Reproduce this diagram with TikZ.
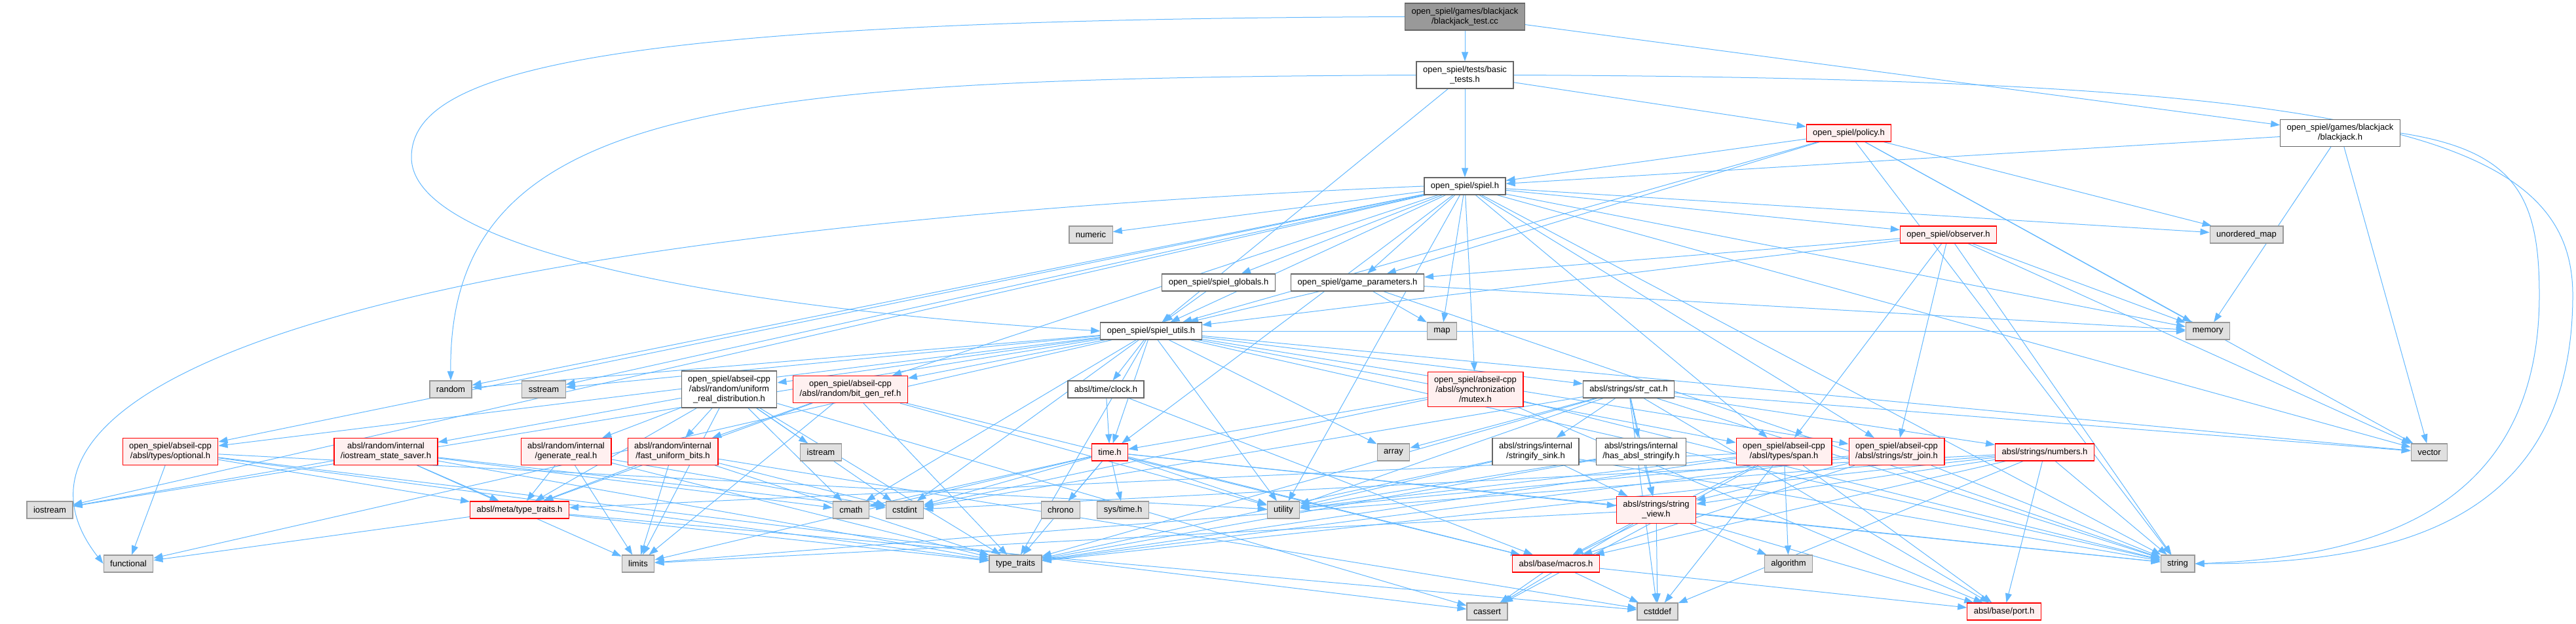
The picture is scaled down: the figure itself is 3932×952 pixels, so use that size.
\documentclass[tikz,border=0pt]{standalone}
\usepackage{fontspec}
\setmainfont{Liberation Sans}
\usetikzlibrary{arrows.meta,backgrounds}
\definecolor{EdgeBlue}{RGB}{99,184,255}
\definecolor{SysFill}{RGB}{224,224,224}
\definecolor{SysLine}{RGB}{153,153,153}
\definecolor{HdrLine}{RGB}{102,102,102}
\definecolor{TruncFill}{RGB}{255,240,240}
\definecolor{RootFill}{RGB}{153,153,153}

\begin{document}
\begin{tikzpicture}[x=1pt, y=-1pt,
  box/.style={draw, line width=1.2pt, align=center, inner xsep=10pt, inner ysep=7pt, minimum height=26pt, font=\fontsize{13}{15}\selectfont},
  hdr/.style={box, draw=HdrLine, fill=white},
  sys/.style={box, draw=SysLine, fill=SysFill},
  trunc/.style={box, draw=red, fill=TruncFill},
  root/.style={box, draw=HdrLine, fill=RootFill},
  dep/.style={-{Triangle[length=14pt, width=10pt]}, EdgeBlue, line width=1pt}]
  \useasboundingbox (0,0) rectangle (3932,952);

  % open_spiel headers
  \node[root] (test) at (2236,25.5) {open\_spiel/games/blackjack\\/blackjack\_test.cc};
  \node[hdr] (basictests) at (2236,114.5) {open\_spiel/tests/basic\\\_tests.h};
  \node[trunc] (policy) at (2822,203) {open\_spiel/policy.h};
  \node[hdr] (blackjack) at (3572,203) {open\_spiel/games/blackjack\\/blackjack.h};
  \node[hdr] (spiel) at (2236,284) {open\_spiel/spiel.h};
  \node[sys] (numeric) at (1665,358) {numeric};
  \node[trunc] (observer) at (2974,358) {open\_spiel/observer.h};
  \node[sys] (umap) at (3429,358) {unordered\_map};
  \node[hdr] (globals) at (1860,431) {open\_spiel/spiel\_globals.h};
  \node[hdr] (gameparams) at (2072,431) {open\_spiel/game\_parameters.h};
  \node[hdr] (utils) at (1757,505) {open\_spiel/spiel\_utils.h};
  \node[sys] (map) at (2201,505) {map};
  \node[sys] (memory) at (3370,505) {memory};

  % abseil headers
  \node[sys] (random) at (688,594) {random};
  \node[sys] (sstream) at (830,594) {sstream};
  \node[hdr] (uniform) at (1113,594) {open\_spiel/abseil-cpp\\/absl/random/uniform\\\_real\_distribution.h};
  \node[trunc] (bitgen) at (1298,594) {open\_spiel/abseil-cpp\\/absl/random/bit\_gen\_ref.h};
  \node[hdr] (clock) at (1688,594) {absl/time/clock.h};
  \node[trunc] (mutex) at (2252,594) {open\_spiel/abseil-cpp\\/absl/synchronization\\/mutex.h};
  \node[hdr] (strcat) at (2486,594) {absl/strings/str\_cat.h};
  \node[trunc] (optional) at (260,689) {open\_spiel/abseil-cpp\\/absl/types/optional.h};
  \node[trunc] (saver) at (589,689) {absl/random/internal\\/iostream\_state\_saver.h};
  \node[trunc] (genreal) at (864,689) {absl/random/internal\\/generate\_real.h};
  \node[trunc] (fastbits) at (1027,689) {absl/random/internal\\/fast\_uniform\_bits.h};
  \node[sys] (istream) at (1253,690) {istream};
  \node[trunc] (time) at (1694,690) {time.h};
  \node[sys] (array) at (2127,690) {array};
  \node[hdr] (sink) at (2344,689) {absl/strings/internal\\/stringify\_sink.h};
  \node[hdr] (hasstr) at (2505,689) {absl/strings/internal\\/has\_absl\_stringify.h};
  \node[trunc] (span) at (2723,689) {open\_spiel/abseil-cpp\\/absl/types/span.h};
  \node[trunc] (strjoin) at (2895,689) {open\_spiel/abseil-cpp\\/absl/strings/str\_join.h};
  \node[trunc] (numbers) at (3121,690) {absl/strings/numbers.h};
  \node[sys] (vector) at (3708,690) {vector};
  \node[sys] (iostream) at (76,778) {iostream};
  \node[trunc] (metatt) at (793,778) {absl/meta/type\_traits.h};
  \node[sys] (cmath) at (1299,778) {cmath};
  \node[sys] (cstdint) at (1381,778) {cstdint};
  \node[sys] (chrono) at (1619,778) {chrono};
  \node[sys] (systime) at (1714,778) {sys/time.h};
  \node[sys] (utility) at (1959,778) {utility};
  \node[trunc] (strview) at (2528,778) {absl/strings/string\\\_view.h};
  \node[sys] (functional) at (196,860) {functional};
  \node[sys] (limits) at (974,860) {limits};
  \node[sys] (typetraits) at (1550,860) {type\_traits};
  \node[trunc] (macros) at (2375,860) {absl/base/macros.h};
  \node[sys] (algorithm) at (2730,860) {algorithm};
  \node[sys] (string) at (3324,860) {string};
  \node[sys] (cassert) at (2270,933) {cassert};
  \node[sys] (cstddef) at (2530,933) {cstddef};
  \node[trunc] (port) at (3059,933) {absl/base/port.h};

  \begin{scope}[on background layer]
    \foreach \dst in {basictests,blackjack} \draw[dep] (test) -- (\dst);
    \draw[dep] (test.west) .. controls (900,30) and (628,110) .. (628,240) .. controls (628,380) and (1100,470) .. (utils.west);
    \foreach \dst in {spiel,policy,utils} \draw[dep] (basictests) -- (\dst);
    \draw[dep] (basictests.west) .. controls (1100,120) and (684,160) .. (random.north);
    \draw[dep] (basictests.east) .. controls (3600,120) and (3927,200) .. (3927,450) .. controls (3927,800) and (3650,860) .. (string.east);
    \foreach \dst in {spiel,utils,gameparams,umap,memory,string,vector} \draw[dep] (policy) -- (\dst);
    \foreach \dst in {spiel,memory,vector} \draw[dep] (blackjack) -- (\dst);
    \draw[dep] (blackjack.east) .. controls (3840,230) and (3876,300) .. (3876,450) .. controls (3876,780) and (3620,850) .. (string.east);
    \foreach \dst in {numeric,observer,globals,gameparams,utils,map,mutex,bitgen,span,strjoin,optional,random,sstream,iostream,time,umap,memory,string,vector,utility}
      \draw[dep] (spiel) -- (\dst);
    \draw[dep] (spiel.west) .. controls (400,360) and (-30,620) .. (functional.west);
    \foreach \dst in {gameparams,utils,span,strjoin,memory,string,vector} \draw[dep] (observer) -- (\dst);
    \draw[dep] (globals) -- (utils);
    \foreach \dst in {utils,map,memory,string} \draw[dep] (gameparams) -- (\dst);
    \foreach \dst in {uniform,bitgen,clock,time,optional,span,strcat,strjoin,random,sstream,iostream,functional,cmath,cstdint,array,utility,typetraits,memory,string,vector}
      \draw[dep] (utils) -- (\dst);
    \foreach \dst in {fastbits,genreal,saver,istream,cmath,cstdint,metatt,limits,typetraits,cassert} \draw[dep] (uniform) -- (\dst);
    \foreach \dst in {fastbits,metatt,limits,typetraits,utility,macros} \draw[dep] (bitgen) -- (\dst);
    \foreach \dst in {time,macros} \draw[dep] (clock) -- (\dst);
    \foreach \dst in {time,cstdint,port,string} \draw[dep] (mutex) -- (\dst);
    \foreach \dst in {array,sink,hasstr,strview,numbers,cstdint,utility,typetraits,string,vector,port,cstddef} \draw[dep] (strcat) -- (\dst);
    \foreach \dst in {functional,metatt,typetraits,utility,cassert} \draw[dep] (optional) -- (\dst);
    \foreach \dst in {iostream,metatt,limits,cmath,cstdint,typetraits} \draw[dep] (saver) -- (\dst);
    \foreach \dst in {metatt,limits,cstdint,typetraits} \draw[dep] (genreal) -- (\dst);
    \foreach \dst in {metatt,limits,cstddef,cstdint,typetraits} \draw[dep] (fastbits) -- (\dst);
    \foreach \dst in {chrono,systime,cmath,cstdint,limits,typetraits,utility,strview,macros,string} \draw[dep] (time) -- (\dst);
    \foreach \dst in {strview,utility,typetraits,string} \draw[dep] (sink) -- (\dst);
    \foreach \dst in {strview,typetraits,utility} \draw[dep] (hasstr) -- (\dst);
    \foreach \dst in {algorithm,cstddef,macros,port,typetraits,utility,cassert,metatt} \draw[dep] (span) -- (\dst);
    \foreach \dst in {strview,macros,string,typetraits,utility} \draw[dep] (strjoin) -- (\dst);
    \foreach \dst in {port,string,cstddef,cstdint,limits,typetraits,macros,strview} \draw[dep] (numbers) -- (\dst);
    \foreach \dst in {functional,typetraits,cstddef} \draw[dep] (metatt) -- (\dst);
    \foreach \dst in {macros,cstddef,algorithm,cassert,port,string,limits} \draw[dep] (strview) -- (\dst);
    \foreach \dst in {cassert,cstddef,port} \draw[dep] (macros) -- (\dst);
  \end{scope}
\end{tikzpicture}
\end{document}
